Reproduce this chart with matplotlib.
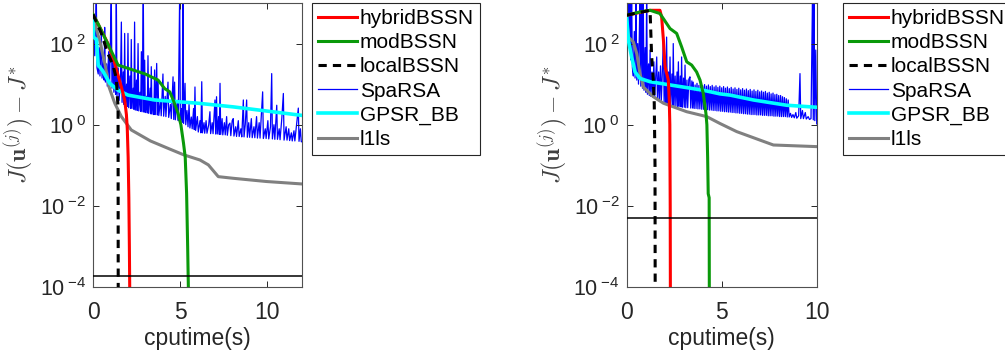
import numpy as np
import matplotlib
matplotlib.use("Agg")
import matplotlib.pyplot as plt
from matplotlib.ticker import FixedLocator, FixedFormatter

plt.rcParams['font.family'] = ['Liberation Sans', 'DejaVu Sans']
plt.rcParams['mathtext.fontset'] = 'custom'
plt.rcParams['mathtext.rm'] = 'Liberation Sans'
plt.rcParams['mathtext.it'] = 'Liberation Sans:italic'
plt.rcParams['mathtext.bf'] = 'Liberation Sans:bold'

# ---------------- data (values stored as log10 of J(u)-J*) ----------------
labels = ['hybridBSSN', 'modBSSN', 'localBSSN', 'SpaRSA', 'GPSR_BB', 'l1ls']
thresh = [1.9e-4, 4.9e-3]
xticks = [[0, 5, 10], [0, 5, 10]]
xlims = [12, 10]
yticks = [1e-4, 1e-2, 1e0, 1e2]
ytick_labels = [r'$\mathregular{10}^{\;\mathregular{-4}}$', r'$\mathregular{10}^{\;\mathregular{-2}}$',
                r'$\mathregular{10}^{\;\mathregular{0}}$', r'$\mathregular{10}^{\;\mathregular{2}}$']

# ---- left panel ----
L_hyb_t = [0.0, 0.45, 0.86, 1.25, 1.63, 1.82, 1.92, 1.97, 2.02, 2.06, 2.09, 2.12]
L_hyb_e = [2.72, 2.35, 2.0, 1.51, 0.93, 0.61, 0.25, -0.1, -0.8, -1.8, -3.0, -4.5]
L_mod_t = [0.0, 0.29, 1.44, 2.01, 3.0, 3.74, 4.12, 4.41, 4.6, 4.89, 5.05, 5.2, 5.3, 5.38, 5.44, 5.5]
L_mod_e = [2.72, 2.49, 1.47, 1.39, 1.25, 1.10, 0.89, 0.81, 0.62, 0.28, 0.0, -0.45, -0.8, -1.7, -3.0, -4.5]
L_loc_t = [0.0, 0.48, 0.86, 1.15, 1.34, 1.40, 1.44, 1.45]
L_loc_e = [2.72, 2.25, 1.75, 1.47, 1.14, 0.69, 0.44, -4.5]
L_spa_t = [0.00, 0.05, 0.10, 0.15, 0.19, 0.23, 0.30, 0.36, 0.40, 0.48, 0.52, 0.60, 0.64, 0.67, 0.71,
           0.78, 0.82, 0.90, 0.95, 1.05, 1.09, 1.16, 1.20, 1.27, 1.30, 1.34, 1.38, 1.45, 1.50, 1.58,
           1.63, 1.67, 1.74, 1.78, 1.82, 1.86, 1.93, 1.97, 2.01, 2.05, 2.12, 2.16, 2.20, 2.24, 2.31,
           2.35, 2.39, 2.43, 2.50, 2.54, 2.59, 2.63, 2.70, 2.74, 2.78, 2.82, 2.89, 2.93, 2.97, 3.01,
           3.08, 3.12, 3.16, 3.20, 3.28, 3.31, 3.35, 3.39, 3.46, 3.50, 3.54, 3.58, 3.66, 3.70, 3.74,
           3.78, 3.88, 3.92, 4.02, 4.06, 4.15, 4.19, 4.31, 4.35, 4.45, 4.50, 4.60, 4.64, 4.69, 4.73,
           4.85, 4.90, 4.98, 5.02, 5.10, 5.13, 5.17, 5.21, 5.29, 5.33, 5.40, 5.46, 5.52, 5.57, 5.65,
           5.70, 5.78, 5.82, 5.86, 5.90, 6.00, 6.05, 6.15, 6.20, 6.25, 6.29, 6.38, 6.42, 6.50, 6.55,
           6.65, 6.72, 6.76, 6.85, 6.90, 7.01, 7.05, 7.10, 7.14, 7.22, 7.26, 7.30, 7.34, 7.42, 7.46,
           7.55, 7.60, 7.68, 7.72, 7.80, 7.87, 7.92, 8.00, 8.06, 8.10, 8.20, 8.25, 8.35, 8.40, 8.50,
           8.55, 8.64, 8.68, 8.75, 8.83, 8.87, 8.95, 9.00, 9.10, 9.15, 9.25, 9.30, 9.40, 9.45, 9.55,
           9.60, 9.75, 9.79, 9.90, 9.95, 10.05, 10.10, 10.20, 10.27, 10.31, 10.40, 10.45, 10.56, 10.60,
           10.70, 10.75, 10.85, 10.94, 10.98, 11.10, 11.15, 11.25, 11.30, 11.40, 11.45, 11.55, 11.60,
           11.70, 11.80, 11.84, 11.92, 11.97, 12.00]
L_spa_e = [2.60, 2.10, 1.70, 2.40, 3.20, 1.40, 1.25, 1.90, 1.20, 2.30, 1.15, 1.60, 1.10, 2.40, 1.05,
           1.50, 0.95, 1.80, 0.92, 3.20, 0.90, 1.60, 0.80, 1.30, 0.75, 3.20, 0.70, 1.40, 0.60, 1.10,
           2.53, 0.55, 1.30, 0.50, 2.25, 0.48, 1.00, 0.45, 2.25, 0.42, 1.20, 0.40, 2.10, 0.40, 0.90,
           0.38, 2.53, 0.36, 1.10, 0.35, 2.00, 0.34, 0.80, 0.33, 1.80, 0.32, 3.20, 0.31, 1.59, 0.30,
           0.70, 0.29, 1.70, 0.28, 0.90, 0.27, 1.43, 0.26, 0.60, 0.25, 1.35, 0.25, 1.51, 0.24, 1.10,
           0.23, 0.60, 0.22, 1.25, 0.21, 0.70, 0.20, 1.05, 0.18, 0.50, 0.15, 1.18, 0.13, 1.05, 0.12,
           0.60, 0.10, 3.20, 0.08, 0.40, 0.06, 3.20, 0.03, 1.02, 0.00, 0.35, -0.05, 0.50, -0.08, 0.19,
           -0.10, 0.40, -0.12, 0.93, -0.14, 0.20, -0.18, 0.10, -0.20, 1.06, -0.20, 0.05, -0.21, 0.10, -0.21,
           0.00, 0.32, -0.22, 0.05, -0.22, 0.61, -0.23, 0.69, -0.23, 0.20, -0.24, 1.02, -0.24, 0.15, -0.25,
           0.05, -0.25, 0.20, -0.26, 0.00, 0.04, -0.27, 0.10, 0.15, -0.28, -0.05, -0.29, 0.10, -0.29, -0.10,
           -0.30, 0.61, -0.30, 0.00, 0.61, -0.31, 0.05, -0.31, 0.15, -0.32, -0.05, -0.32, 0.20, -0.33, 0.05,
           -0.33, 0.81, -0.34, -0.10, -0.34, 0.10, -0.35, -0.05, 1.26, -0.35, 0.00, -0.36, 0.48, -0.36,
           -0.10, -0.37, 0.15, 0.77, -0.38, -0.05, -0.38, -0.10, -0.39, -0.20, -0.40, -0.15, -0.40,
           0.00, 0.41, -0.41, -0.10, -0.42, -0.42]
L_gps_t = [0.0, 0.03, 0.2, 0.3, 0.57, 0.96, 1.44, 2.01, 3.54, 6.03, 8.05, 12.0]
L_gps_e = [2.6, 2.16, 2.1, 1.47, 1.32, 1.02, 0.85, 0.73, 0.61, 0.53, 0.44, 0.23]
L_l1_t = [0.0, 0.2, 0.4, 0.72, 0.92, 1.25, 1.63, 2.2, 3.3, 4.3, 5.2, 6.15, 6.63, 7.2, 8.05, 9.97, 12.0]
L_l1_e = [2.65, 2.35, 2.05, 1.43, 0.93, 0.53, 0.2, -0.13, -0.4, -0.58, -0.74, -0.87, -0.99, -1.28, -1.32, -1.40, -1.46]

# ---- right panel ----
R_hyb_t = [0.0, 1.23, 1.75, 1.84, 1.93, 2.02, 2.19, 2.24, 2.27, 2.29, 2.30]
R_hyb_e = [2.7, 2.82, 2.82, 2.65, 2.1, 1.43, 1.1, 0.61, 0.0, -2.0, -4.5]
R_mod_t = [0.0, 0.7, 1.23, 1.75, 2.28, 2.63, 2.89, 3.16, 3.42, 3.68, 3.86, 4.03, 4.17, 4.22, 4.26, 4.29, 4.34, 4.35]
R_mod_e = [2.7, 2.78, 2.82, 2.74, 2.37, 2.25, 1.92, 1.55, 1.47, 1.30, 1.1, 0.77, 0.28, 0.0, -0.8, -1.7, -1.8, -4.5]
R_loc_t = [0.0, 1.23, 1.31, 1.40, 1.45, 1.49, 1.50]
R_loc_e = [2.7, 2.82, 1.71, 1.1, 0.53, -1.0, -4.5]
R_spa_t = [0.00, 0.05, 0.09, 0.13, 0.17, 0.21, 0.26, 0.30, 0.35, 0.40, 0.44, 0.49, 0.53, 0.58, 0.62,
           0.70, 0.74, 0.79, 0.83, 0.87, 0.91, 0.97, 1.01, 1.05, 1.09, 1.15, 1.19, 1.23, 1.27, 1.33,
           1.37, 1.43, 1.47, 1.53, 1.58, 1.62, 1.68, 1.72, 1.78, 1.82, 1.88, 1.93, 1.97, 2.03, 2.07,
           2.10, 2.14, 2.20, 2.24, 2.28, 2.32, 2.38, 2.42, 2.45, 2.49, 2.55, 2.59, 2.65, 2.68, 2.72,
           2.76, 2.82, 2.86, 2.89, 2.93, 2.99, 3.03, 3.07, 3.11, 3.17, 3.21, 3.27, 3.33, 3.37, 3.43, 3.47,
           3.50, 3.55, 3.60, 3.65, 3.70, 3.75, 3.80, 3.85, 3.90, 3.95, 4.00, 4.05, 4.10, 4.15, 4.20, 4.25,
           4.30, 4.35, 4.40, 4.45, 4.50, 4.55, 4.60, 4.65, 4.70, 4.75, 4.80, 4.85, 4.90, 4.95, 5.00, 5.05,
           5.10, 5.15, 5.20, 5.25, 5.30, 5.35, 5.40, 5.45, 5.50, 5.55, 5.60, 5.65, 5.70, 5.75, 5.80, 5.85,
           5.90, 5.95, 6.00, 6.05, 6.10, 6.15, 6.20, 6.25, 6.30, 6.35, 6.40, 6.45, 6.50, 6.55, 6.60, 6.65,
           6.70, 6.75, 6.80, 6.85, 6.90, 6.95, 7.00, 7.05, 7.10, 7.15, 7.20, 7.25, 7.30, 7.35, 7.40, 7.45,
           7.50, 7.55, 7.60, 7.65, 7.70, 7.75, 7.80, 7.85, 7.90, 7.95, 8.00, 8.05, 8.10, 8.15, 8.20, 8.25,
           8.30, 8.35, 8.40, 8.45,
           8.50, 8.55, 8.62, 8.68, 8.75, 8.82, 8.90, 8.95, 9.05, 9.12, 9.16, 9.25, 9.30, 9.40, 9.45,
           9.55, 9.62, 9.70, 9.78, 9.82, 9.86, 9.90, 9.95, 10.00]
R_spa_e = [2.70, 2.20, 3.20, 1.90, 3.20, 1.60, 3.20, 1.40, 1.20, 2.30, 1.15, 3.20, 1.10, 2.00, 1.00,
           3.20, 0.95, 3.20, 0.90, 3.20, 0.85, 1.90, 0.80, 3.20, 0.75, 1.50, 0.72, 1.84, 0.70, 1.30,
           0.68, 1.55, 0.66, 1.20, 1.67, 0.62, 1.30, 0.60, 1.45, 0.58, 1.35, 2.12, 0.55, 1.40, 0.53,
           2.16, 0.52, 1.30, 0.50, 1.67, 0.49, 1.25, 0.48, 2.00, 0.47, 1.20, 0.46, 1.30, 0.45, 1.55,
           0.45, 1.20, 0.44, 1.67, 0.43, 1.15, 0.43, 1.47, 0.42, 1.10, 0.42, 1.12, 1.18, 0.41, 1.08, 0.41,
           1.05, 0.40, 0.98, 0.40, 1.02, 0.39, 0.97, 0.39, 1.00, 0.38, 0.96, 0.38, 0.99, 0.37, 0.95, 0.37,
           0.98, 0.36, 0.94, 0.36, 0.97, 0.35, 0.93, 0.35, 0.96, 0.34, 0.92, 0.34, 0.95, 0.33, 0.91, 0.33,
           0.94, 0.32, 0.90, 0.32, 0.93, 0.31, 0.89, 0.31, 0.92, 0.30, 0.88, 0.30, 0.91, 0.29, 0.87, 0.29,
           0.90, 0.28, 0.86, 0.28, 0.89, 0.27, 0.85, 0.27, 0.88, 0.26, 0.84, 0.26, 0.87, 0.25, 0.83, 0.25,
           0.86, 0.25, 0.82, 0.24, 0.85, 0.24, 0.81, 0.24, 0.83, 0.23, 0.80, 0.23, 0.82, 0.23, 0.78, 0.22,
           0.80, 0.22, 0.76, 0.22, 0.78, 0.21, 0.74, 0.21, 0.75, 0.21, 0.72, 0.20, 0.72, 0.20, 0.69, 0.20,
           0.67, 0.20, 0.64, 0.19,
           0.61, 0.19, 0.28, 0.18, 0.25, 0.17, 0.30, 0.16, 0.22, 1.26, 0.15, 0.35, 0.15, 0.30, 0.14,
           0.20, 0.13, 0.15, 3.20, 0.12, 3.20, 0.10, 1.84, 0.02]
R_gps_t = [0.0, 0.09, 0.26, 0.44, 0.7, 1.23, 2.28, 4.03, 4.91, 5.44, 6.67, 8.42, 10.0]
R_gps_e = [2.65, 2.08, 1.67, 1.30, 1.14, 1.06, 0.98, 0.85, 0.76, 0.73, 0.61, 0.48, 0.43]
R_l1_t = [0.0, 0.09, 0.35, 0.53, 0.7, 0.88, 1.4, 1.93, 3.16, 4.21, 4.91, 5.79, 7.72, 10.0]
R_l1_e = [2.61, 2.16, 2.04, 1.75, 1.26, 0.93, 0.69, 0.53, 0.32, 0.2, 0.03, -0.17, -0.5, -0.54]

panels = [
    dict(hyb=(L_hyb_t, L_hyb_e), mod=(L_mod_t, L_mod_e), loc=(L_loc_t, L_loc_e),
         spa=(L_spa_t, L_spa_e), gps=(L_gps_t, L_gps_e), l1=(L_l1_t, L_l1_e)),
    dict(hyb=(R_hyb_t, R_hyb_e), mod=(R_mod_t, R_mod_e), loc=(R_loc_t, R_loc_e),
         spa=(R_spa_t, R_spa_e), gps=(R_gps_t, R_gps_e), l1=(R_l1_t, R_l1_e)),
]

# ---------------- styles ----------------
styles = {
    'hyb': dict(color='#ff0000', lw=2.2, zorder=4),
    'mod': dict(color='#0a990a', lw=2.2, zorder=4),
    'loc': dict(color='#000000', lw=2.2, zorder=5, dashes=(2.7, 2.0)),
    'spa': dict(color='#0000ff', lw=0.9, zorder=1),
    'gps': dict(color='#00ffff', lw=2.6, zorder=3),
    'l1':  dict(color='#808080', lw=2.2, zorder=2),
}
keys = ['hyb', 'mod', 'loc', 'spa', 'gps', 'l1']

W, H = 1005, 356
fig = plt.figure(figsize=(W / 100, H / 100), dpi=100)
axes_px = [(93, 208.8), (626.7, 190.0)]
legend_px = [312, 843]
ax_bottom, ax_top = 287, 3
ylabel_gap_px = 57   # distance from axis left edge to y label's right edge

for i, p in enumerate(panels):
    x0, w = axes_px[i]
    ax = fig.add_axes([x0 / W, (H - ax_bottom) / H, w / W, (ax_bottom - ax_top) / H])
    handles = []
    for k, lab in zip(keys, labels):
        t, e = p[k]
        ln, = ax.plot(t, np.power(10.0, np.array(e)), label=lab, **styles[k])
        handles.append(ln)
    ax.axhline(thresh[i], color='black', lw=1.1, zorder=6)
    ax.set_yscale('log')
    ax.set_xlim(0, xlims[i])
    ax.set_ylim(1e-4, 1e3)
    ax.xaxis.set_major_locator(FixedLocator(xticks[i]))
    ax.yaxis.set_major_locator(FixedLocator(yticks))
    ax.yaxis.set_major_formatter(FixedFormatter(ytick_labels))
    ax.yaxis.set_minor_locator(FixedLocator([]))
    ax.tick_params(which='both', direction='in', top=True, right=True, length=4,
                   width=0.7, color='#262626', labelcolor='#262626')
    ax.tick_params(axis='x', labelsize=16.5, pad=10)
    ax.tick_params(axis='y', labelsize=15.5, pad=5)
    for s in ax.spines.values():
        s.set_color('#505050')
        s.set_linewidth(0.8)
    ax.set_xlabel('cputime(s)', fontsize=16.5, color='#262626', labelpad=2)
    ax.set_ylabel(r'$J(\mathbf{u}^{(j)})-J^{*}$', fontsize=17, color='#404040',
                  math_fontfamily='cm')
    ax.yaxis.set_label_coords(-ylabel_gap_px / w, 0.57)
    leg = fig.legend(handles=handles, loc='upper left',
                     bbox_to_anchor=(legend_px[i] / W, 1 - 2.7 / H),
                     bbox_transform=fig.transFigure, borderaxespad=0,
                     fontsize=15, frameon=True, fancybox=False, framealpha=1,
                     edgecolor='#262626', handlelength=1.85, handletextpad=0.15,
                     labelspacing=0.25, borderpad=0.3)
    leg.get_frame().set_linewidth(0.8)

fig.savefig('out.png', dpi=100)
